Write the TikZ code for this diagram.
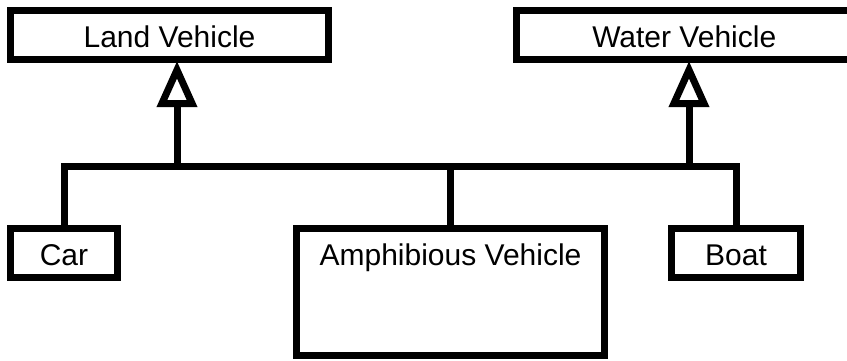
\documentclass[tikz,border=0pt]{standalone}
\usepackage{fontspec}
\setmainfont{Liberation Sans}
\usetikzlibrary{arrows.meta}

\begin{document}
\begin{tikzpicture}[x=1pt,y=1pt,
  box/.style={draw,line width=7pt,inner sep=0pt,minimum height=49pt,
    text height=37pt,text depth=12pt,font=\fontsize{30}{36}\selectfont},
  link/.style={line width=7pt},
  isa/.style={line width=7pt,shorten >=-2pt,-{Triangle[open,length=46pt,width=39pt]}}]
  \useasboundingbox (0,0) rectangle (847,360);
  \node[box,minimum width=318pt] (land) at (169.5,325) {Land Vehicle};
  \node[box,minimum width=335.5pt] (water) at (684.25,325) {Water Vehicle};
  \node[box,minimum width=107pt] (car) at (64,107) {Car};
  \node[box,minimum width=308pt,minimum height=127pt,text height=36.5pt,text depth=90.5pt] (amph) at (450.5,68) {Amphibious Vehicle};
  \node[box,minimum width=129pt] (boat) at (736,107) {Boat};
  \coordinate (landfoot) at (177,193.5);
  \coordinate (waterfoot) at (689,193.5);
  \draw[link] (car.north) |- (waterfoot) -| (boat.north);
  \draw[link] (amph.north) -- (amph.north |- landfoot);
  \draw[isa] (landfoot) -- (landfoot |- land.south);
  \draw[isa] (waterfoot) -- (waterfoot |- water.south);
\end{tikzpicture}
\end{document}
